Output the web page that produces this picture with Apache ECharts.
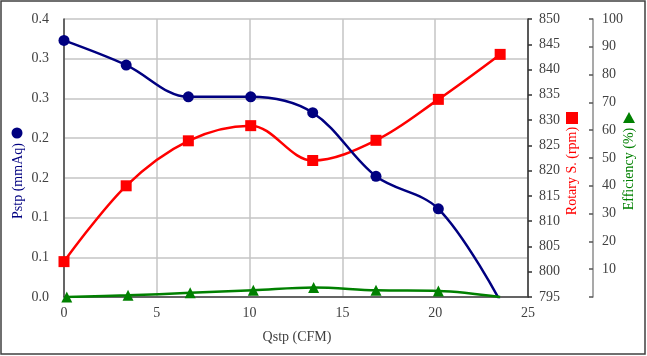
<!DOCTYPE html>
<html>
<head>
<meta charset="utf-8">
<script src="https://cdn.jsdelivr.net/npm/echarts@6/dist/echarts.min.js"></script>
<style>html,body{margin:0;padding:0;background:#fff;}#c{width:647px;height:356px;}</style>
</head>
<body>
<div id="c"></div>
<script>
// ---- data ----
var Q = [0, 3.35, 6.7, 10.06, 13.4, 16.81, 20.17, 23.5];          // Qstp (CFM)
var EFF_Q = [0.15, 3.45, 6.8, 10.2, 13.45, 16.81, 20.17, 23.5];   // Qstp for efficiency marks
var PSTP = [0.323, 0.292, 0.252, 0.252, 0.232, 0.152, 0.111, -0.005]; // mmAq
var ROTARY = [802.0, 817.0, 825.9, 828.9, 822.0, 826.0, 834.1, 843.0]; // rpm
var EFF = [0, 0.6, 1.5, 2.4, 3.4, 2.4, 2.2, 0];                    // %
var PSTP_TICK_LABELS = ['0.0', '0.1', '0.1', '0.2', '0.2', '0.3', '0.3', '0.4'];
var X_TITLE = 'Qstp (CFM)';
var Y1_TITLE = 'Pstp (mmAq)';
var Y2_TITLE = 'Rotary S. (rpm)';
var Y3_TITLE = 'Efficiency (%)';

function pts(xs, ys, hideLast) {
  return xs.map(function (x, i) {
    var item = { value: [x, ys[i]] };
    if (hideLast && i === xs.length - 1) item.symbol = 'none';
    return item;
  });
}

var FONT = 'Liberation Serif';
var TXT = '#404040';
var chart = echarts.init(document.getElementById('c'), null, { renderer: 'canvas' });
chart.setOption({
  animation: false,
  grid: { left: 64, right: 119, top: 19, bottom: 59, containLabel: false },
  xAxis: {
    type: 'value', min: 0, max: 25, interval: 5,
    axisLine: { show: true, onZero: false, lineStyle: { color: TXT, width: 1.5 } },
    axisTick: { show: false },
    axisLabel: { color: TXT, fontFamily: FONT, fontSize: 14, margin: 9 },
    splitLine: { show: true, lineStyle: { color: '#c4c4c4', width: 1.5 } }
  },
  yAxis: [
    {
      type: 'value', min: 0, max: 0.35, interval: 0.05, position: 'left',
      axisLine: { show: true, lineStyle: { color: TXT, width: 1.5 } },
      axisTick: { show: false },
      axisLabel: {
        color: TXT, fontFamily: FONT, fontSize: 14, margin: 15,
        formatter: function (v) { return PSTP_TICK_LABELS[Math.round(v / 0.05)]; }
      },
      splitLine: { show: true, lineStyle: { color: '#c4c4c4', width: 1.5 } }
    },
    {
      type: 'value', min: 795, max: 850, interval: 5, position: 'right', offset: 0,
      alignTicks: false,
      axisLine: { show: true, lineStyle: { color: '#303030', width: 1.5 } },
      axisTick: { show: true, inside: false, length: 4, lineStyle: { color: '#303030', width: 1.5 } },
      axisLabel: { color: TXT, fontFamily: FONT, fontSize: 14, margin: 11 },
      splitLine: { show: false }
    },
    {
      type: 'value', min: 0, max: 100, interval: 10, position: 'right', offset: 65,
      alignTicks: false,
      axisLine: { show: true, lineStyle: { color: '#8c8c8c', width: 1.5 } },
      axisTick: { show: true, inside: true, length: 4, lineStyle: { color: '#555555', width: 1.5 } },
      axisLabel: {
        color: TXT, fontFamily: FONT, fontSize: 14, margin: 9,
        formatter: function (v) { return v === 0 ? '' : String(v); }
      },
      splitLine: { show: false }
    }
  ],
  series: [
    {
      type: 'line', yAxisIndex: 1, data: pts(Q, ROTARY, false), smooth: 0.35, clip: true,
      symbol: 'rect', symbolSize: 11,
      lineStyle: { color: '#ff0000', width: 2.5 }, itemStyle: { color: '#ff0000' }
    },
    {
      type: 'line', yAxisIndex: 0, data: pts(Q, PSTP, true), smooth: 0.35, clip: true,
      symbol: 'circle', symbolSize: 11,
      lineStyle: { color: '#000080', width: 2.5 }, itemStyle: { color: '#000080' }
    },
    {
      type: 'line', yAxisIndex: 2, data: pts(EFF_Q, EFF, true), smooth: 0.35, clip: true,
      symbol: 'triangle', symbolSize: 11,
      lineStyle: { color: '#008000', width: 2.5 }, itemStyle: { color: '#008000' }
    }
  ],
  graphic: [
    { type: 'rect', shape: { x: 1, y: 1, width: 644, height: 353 }, style: { fill: 'none', stroke: '#404040', lineWidth: 1.5 }, silent: true },
    { type: 'text', x: 297, y: 337, style: { text: X_TITLE, fill: TXT, font: '14px "Liberation Serif"', textAlign: 'center', textVerticalAlign: 'middle' } },
    { type: 'text', x: 18, y: 181, rotation: Math.PI / 2, style: { text: Y1_TITLE, fill: '#000080', font: '14px "Liberation Serif"', textAlign: 'center', textVerticalAlign: 'middle' } },
    { type: 'circle', shape: { cx: 17, cy: 133, r: 5.5 }, style: { fill: '#000080' } },
    { type: 'text', x: 572, y: 171, rotation: Math.PI / 2, style: { text: Y2_TITLE, fill: '#ff0000', font: '14px "Liberation Serif"', textAlign: 'center', textVerticalAlign: 'middle' } },
    { type: 'rect', shape: { x: 566, y: 112, width: 12, height: 12 }, style: { fill: '#ff0000' } },
    { type: 'text', x: 629, y: 169, rotation: Math.PI / 2, style: { text: Y3_TITLE, fill: '#008000', font: '14px "Liberation Serif"', textAlign: 'center', textVerticalAlign: 'middle' } },
    { type: 'polygon', shape: { points: [[623, 123], [635, 123], [629, 112]] }, style: { fill: '#008000' } }
  ]
});
</script>
</body>
</html>
